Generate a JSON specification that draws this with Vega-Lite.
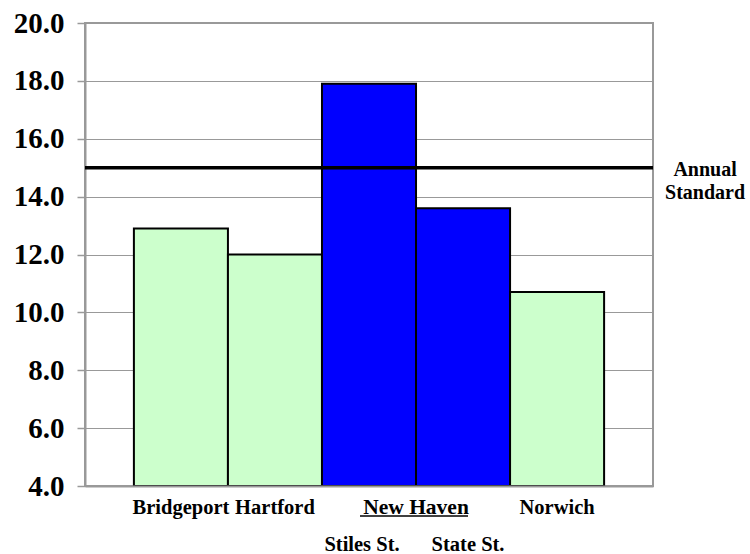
{
  "$schema": "https://vega.github.io/schema/vega-lite/v6.json",
  "width": 568,
  "height": 463,
  "autosize": "none",
  "padding": {"left": 85, "top": 23, "right": 97, "bottom": 68},
  "config": {
    "font": "Times New Roman",
    "view": {"stroke": "#999999", "strokeWidth": 2},
    "axis": {"labelFont": "Times New Roman"},
    "text": {"font": "Times New Roman", "fontWeight": "bold", "fontSize": 20.5, "color": "black"}
  },
  "datasets": {
    "stations": [
      {"station": "Bridgeport", "city": "Bridgeport", "value": 12.9},
      {"station": "Hartford", "city": "Hartford", "value": 12.0},
      {"station": "Stiles St.", "city": "New Haven", "value": 17.9},
      {"station": "State St.", "city": "New Haven", "value": 13.6},
      {"station": "Norwich", "city": "Norwich", "value": 10.7}
    ],
    "cityLabels": [
      {"label": "Bridgeport", "station": "Bridgeport"},
      {"label": "Hartford", "station": "Hartford"},
      {"label": "Norwich", "station": "Norwich"}
    ],
    "groupLabel": [{"label": "New Haven", "station": "Stiles St."}],
    "standard": [{"label": "Annual\nStandard", "value": 15.0}]
  },
  "layer": [
    {
      "data": {"name": "stations"},
      "mark": {"type": "bar", "stroke": "black", "strokeWidth": 2},
      "encoding": {
        "x": {
          "field": "station",
          "type": "nominal",
          "sort": null,
          "scale": {
            "domain": ["Bridgeport", "Hartford", "Stiles St.", "State St.", "Norwich"],
            "paddingInner": 0,
            "paddingOuter": 0.52
          },
          "axis": {
            "title": null,
            "labels": false,
            "ticks": false,
            "grid": false,
            "domainColor": "#999999",
            "domainWidth": 2,
            "zindex": 1
          }
        },
        "y": {
          "field": "value",
          "type": "quantitative",
          "scale": {"domain": [4, 20], "nice": false, "zero": false},
          "axis": {
            "title": null,
            "values": [4, 6, 8, 10, 12, 14, 16, 18, 20],
            "format": ".1f",
            "grid": true,
            "gridColor": "#999999",
            "gridWidth": 1,
            "domainColor": "#999999",
            "domainWidth": 2,
            "tickColor": "#999999",
            "tickWidth": 1.5,
            "tickSize": 8,
            "labelFont": "Times New Roman",
            "labelFontSize": 29,
            "labelFontWeight": "bold",
            "labelColor": "black",
            "labelPadding": 13,
            "labelOverlap": false
          }
        },
        "y2": {"datum": 4},
        "color": {
          "field": "city",
          "type": "nominal",
          "scale": {
            "domain": ["Bridgeport", "Hartford", "New Haven", "Norwich"],
            "range": ["#CCFFCC", "#CCFFCC", "#0000FF", "#CCFFCC"]
          },
          "legend": null
        }
      }
    },
    {
      "data": {"name": "standard"},
      "mark": {"type": "rule", "color": "black", "strokeWidth": 3.5},
      "encoding": {"y": {"field": "value", "type": "quantitative"}}
    },
    {
      "data": {"name": "standard"},
      "mark": {"type": "text", "align": "center", "baseline": "middle", "lineBreak": "\n", "lineHeight": 23, "fontSize": 20, "dx": 101, "dy": 2},
      "encoding": {
        "x": {"datum": "Norwich", "bandPosition": 1},
        "y": {"field": "value", "type": "quantitative"},
        "text": {"field": "label"}
      }
    },
    {
      "data": {"name": "cityLabels"},
      "mark": {"type": "text", "align": "center", "baseline": "alphabetic", "dy": 28},
      "encoding": {
        "x": {"field": "station", "type": "nominal"},
        "y": {"datum": 4},
        "text": {"field": "label"}
      }
    },
    {
      "data": {"name": "groupLabel"},
      "mark": {"type": "text", "align": "center", "baseline": "alphabetic", "dy": 28, "fontSize": 21.5},
      "encoding": {
        "x": {"field": "station", "type": "nominal", "bandPosition": 1},
        "y": {"datum": 4},
        "text": {"field": "label"}
      }
    },
    {
      "data": {"name": "groupLabel"},
      "mark": {"type": "tick", "orient": "horizontal", "color": "black", "size": 108, "thickness": 1.5, "xOffset": 45, "yOffset": 30, "opacity": 1},
      "encoding": {
        "x": {"field": "station", "type": "nominal"},
        "y": {"datum": 4}
      }
    },
    {
      "data": {"name": "stations"},
      "transform": [{"filter": "datum.station === 'Stiles St.'"}],
      "mark": {"type": "text", "align": "center", "baseline": "alphabetic", "dy": 65, "dx": -7},
      "encoding": {
        "x": {"field": "station", "type": "nominal"},
        "y": {"datum": 4},
        "text": {"field": "station"}
      }
    },
    {
      "data": {"name": "stations"},
      "transform": [{"filter": "datum.station === 'State St.'"}],
      "mark": {"type": "text", "align": "center", "baseline": "alphabetic", "dy": 65, "dx": 5},
      "encoding": {
        "x": {"field": "station", "type": "nominal"},
        "y": {"datum": 4},
        "text": {"field": "station"}
      }
    }
  ]
}
